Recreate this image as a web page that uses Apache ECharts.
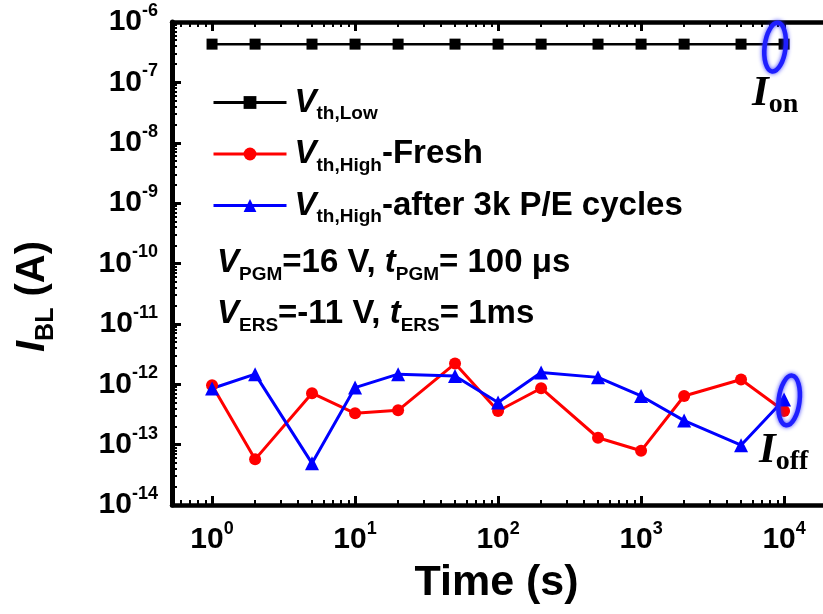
<!DOCTYPE html>
<html>
<head>
<meta charset="utf-8">
<script src="https://cdn.jsdelivr.net/npm/echarts@6/dist/echarts.min.js"></script>
<style>
  html, body { margin: 0; padding: 0; background: #fff; }
  #chart { width: 823px; height: 614px; }
</style>
</head>
<body>
<div id="chart"></div>
<script>
// Retention measurement: bit-line current vs. time
const times = [1, 2, 5, 10, 20, 50, 100, 200, 500, 1000, 2000, 5000, 10000];
const iLow = [4.3e-7, 4.3e-7, 4.3e-7, 4.3e-7, 4.3e-7, 4.3e-7, 4.3e-7, 4.3e-7, 4.3e-7, 4.3e-7, 4.3e-7, 4.3e-7, 4.3e-7];
const iHighFresh = [9.6e-13, 5.7e-14, 7.1e-13, 3.3e-13, 3.7e-13, 2.2e-12, 3.6e-13, 8.6e-13, 1.3e-13, 7.9e-14, 6.4e-13, 1.2e-12, 3.6e-13];
const iHighCycled = [8.5e-13, 1.47e-12, 4.9e-14, 8.8e-13, 1.47e-12, 1.37e-12, 5.0e-13, 1.56e-12, 1.3e-12, 6.4e-13, 2.5e-13, 9.8e-14, 5.6e-13];

const seriesNames = ['Vth,Low', 'Vth,High-Fresh', 'Vth,High-after 3k P/E cycles'];
const legendSub = ['th,Low', 'th,High', 'th,High'];
const legendTail = ['', '-Fresh', '-after 3k P/E cycles'];

const xTickValues = [1, 10, 100, 1000, 10000];
const yTickValues = [1e-14, 1e-13, 1e-12, 1e-11, 1e-10, 1e-9, 1e-8, 1e-7, 1e-6];

const xMin = Math.pow(10, -0.28);
const xMax = Math.pow(10, 4.342);
const yMin = 1e-14;
const yMax = 1e-6;

// minor ticks at 2..9 of each decade
function minorTicks(d0, d1, lo, hi) {
  const out = [];
  for (let d = d0; d <= d1; d++) {
    for (let k = 2; k <= 9; k++) {
      const v = k * Math.pow(10, d);
      if (v > lo && v < hi) out.push(v);
    }
  }
  return out;
}
const xMinor = minorTicks(-1, 4, xMin, xMax);
const yMinor = minorTicks(-14, -7, yMin, yMax);

const SANS = 'Liberation Sans, Arial, sans-serif';
const SERIF = 'Liberation Serif, Times New Roman, serif';

const tickRich = {
  b: { fontFamily: SANS, fontWeight: 'bold', fontSize: 30, lineHeight: 40, verticalAlign: 'middle', color: '#000' },
  s: { fontFamily: SANS, fontWeight: 'bold', fontSize: 18, lineHeight: 18, verticalAlign: 'top', color: '#000' }
};
function powLabel(v) {
  const e = Math.round(Math.log10(v));
  return '{b|10}{s|' + e + '}';
}

const frame = { show: true, lineStyle: { color: '#000', width: 4.5 } };
const majorTick = { show: true, inside: true, length: 9, lineStyle: { color: '#000', width: 3 } };
const minorTick = { show: true, inside: true, length: 5, lineStyle: { color: '#000', width: 2 } };

function decoAxis(position, min, max, tick, values, line) {
  return {
    type: 'log', logBase: 10, position: position, min: min, max: max,
    axisLine: line ? frame : { show: false },
    axisTick: Object.assign({}, tick, { customValues: values }),
    axisLabel: { show: false },
    splitLine: { show: false },
    minorTick: { show: false }
  };
}

const chart = echarts.init(document.getElementById('chart'), null, { renderer: 'canvas' });

const option = {
  backgroundColor: '#fff',
  animation: false,
  grid: { left: 172, top: 22, width: 661, height: 483, containLabel: false, outerBoundsMode: 'none' },
  legend: {
    orient: 'vertical', left: 212, top: 86, padding: 0, itemGap: 14,
    itemWidth: 73, itemHeight: 16,
    lineStyle: { width: 3 },
    data: seriesNames,
    formatter: function (name) {
      const i = seriesNames.indexOf(name);
      return '{v|V}{s|' + legendSub[i] + '}' + (legendTail[i] ? '{t|' + legendTail[i] + '}' : '');
    },
    textStyle: {
      color: '#000',
      rich: {
        v: { fontFamily: SANS, fontWeight: 'bold', fontStyle: 'italic', fontSize: 33, lineHeight: 42, verticalAlign: 'middle', color: '#000', padding: [0, 0, 0, 3] },
        s: { fontFamily: SANS, fontWeight: 'bold', fontSize: 19, lineHeight: 20, verticalAlign: 'bottom', color: '#000' },
        t: { fontFamily: SANS, fontWeight: 'bold', fontSize: 33, lineHeight: 42, verticalAlign: 'middle', color: '#000' }
      }
    }
  },
  xAxis: [
    {
      type: 'log', logBase: 10, position: 'bottom', min: xMin, max: xMax,
      axisLine: frame,
      axisTick: Object.assign({}, majorTick, { customValues: xTickValues }),
      axisLabel: { show: true, customValues: xTickValues, formatter: powLabel, rich: tickRich, margin: 15 },
      splitLine: { show: false },
      minorTick: { show: false },
      name: 'Time (s)', nameLocation: 'middle', nameGap: 57,
      nameTextStyle: { fontFamily: SANS, fontWeight: 'bold', fontSize: 43, color: '#000', padding: [0, 12, 0, 0] }
    },
    decoAxis('top', xMin, xMax, majorTick, xTickValues, true),
    decoAxis('bottom', xMin, xMax, minorTick, xMinor, false),
    decoAxis('top', xMin, xMax, minorTick, xMinor, false)
  ],
  yAxis: [
    {
      type: 'log', logBase: 10, position: 'left', min: yMin, max: yMax,
      axisLine: { show: true, lineStyle: { color: '#000', width: 5 } },
      axisTick: Object.assign({}, majorTick, { customValues: yTickValues }),
      axisLabel: { show: true, customValues: yTickValues, formatter: powLabel, rich: tickRich, margin: 14 },
      splitLine: { show: false },
      minorTick: { show: false },
      name: '{i|I}{s|BL}{n| (A)}', nameLocation: 'middle', nameRotate: 90, nameGap: 113,
      nameTextStyle: {
        color: '#000',
        padding: [0, 66, 0, 0],
        rich: {
          i: { fontFamily: SANS, fontWeight: 'bold', fontStyle: 'italic', fontSize: 40, lineHeight: 52, verticalAlign: 'middle', color: '#000' },
          s: { fontFamily: SANS, fontWeight: 'bold', fontSize: 25, lineHeight: 25, verticalAlign: 'bottom', color: '#000' },
          n: { fontFamily: SANS, fontWeight: 'bold', fontSize: 40, lineHeight: 52, verticalAlign: 'middle', color: '#000' }
        }
      }
    },
    decoAxis('left', yMin, yMax, minorTick, yMinor, false)
  ],
  series: [
    {
      name: seriesNames[0], type: 'line', xAxisIndex: 0, yAxisIndex: 0,
      data: times.map((t, i) => [t, iLow[i]]),
      symbol: 'rect', symbolSize: 11,
      lineStyle: { color: '#000', width: 2.5 }, itemStyle: { color: '#000' }
    },
    {
      name: seriesNames[1], type: 'line', xAxisIndex: 0, yAxisIndex: 0,
      data: times.map((t, i) => [t, iHighFresh[i]]),
      symbol: 'circle', symbolSize: 12,
      lineStyle: { color: '#ff0000', width: 3 }, itemStyle: { color: '#ff0000' }
    },
    {
      name: seriesNames[2], type: 'line', xAxisIndex: 0, yAxisIndex: 0,
      data: times.map((t, i) => [t, iHighCycled[i]]),
      symbol: 'triangle', symbolSize: 14,
      lineStyle: { color: '#0000ff', width: 3 }, itemStyle: { color: '#0000ff' }
    }
  ]
};
chart.setOption(option);

// Annotations: test conditions, I_on / I_off labels and highlight ellipses
const annRich = {
  v: { fontFamily: SANS, fontWeight: 'bold', fontStyle: 'italic', fontSize: 33, lineHeight: 42, verticalAlign: 'middle', fill: '#000' },
  s: { fontFamily: SANS, fontWeight: 'bold', fontSize: 19, lineHeight: 20, verticalAlign: 'bottom', fill: '#000' },
  t: { fontFamily: SANS, fontWeight: 'bold', fontSize: 33, lineHeight: 42, verticalAlign: 'middle', fill: '#000' }
};
const labRich = {
  i: { fontFamily: SERIF, fontWeight: 'bold', fontStyle: 'italic', fontSize: 43, lineHeight: 50, verticalAlign: 'middle', fill: '#000' },
  o: { fontFamily: SERIF, fontWeight: 'bold', fontSize: 28, lineHeight: 22, verticalAlign: 'bottom', fill: '#000' }
};

const onPt = chart.convertToPixel({ xAxisIndex: 0, yAxisIndex: 0 }, [times[times.length - 1], iLow[iLow.length - 1]]);
const offPt = chart.convertToPixel({ xAxisIndex: 0, yAxisIndex: 0 }, [times[times.length - 1], iHighCycled[iHighCycled.length - 1]]);

const ringStyle = { fill: null, stroke: '#1f1fff', lineWidth: 4.5, shadowBlur: 4, shadowColor: 'rgba(40,40,255,0.9)' };

chart.setOption({
  graphic: [
    { type: 'text', x: 217, y: 263, style: { text: '{v|V}{s|PGM}{t|=16 V, }{v|t}{s|PGM}{t|= 100 μs}', rich: annRich, verticalAlign: 'middle' } },
    { type: 'text', x: 217, y: 314, style: { text: '{v|V}{s|ERS}{t|=-11 V, }{v|t}{s|ERS}{t|= 1ms}', rich: annRich, verticalAlign: 'middle' } },
    { type: 'text', x: 752, y: 94, style: { text: '{i|I}{o|on}', rich: labRich, verticalAlign: 'middle' } },
    { type: 'text', x: 759, y: 451, style: { text: '{i|I}{o|off}', rich: labRich, verticalAlign: 'middle' } },
    { type: 'ellipse', x: onPt[0] - 9, y: onPt[1] + 3, rotation: -0.12, shape: { cx: 0, cy: 0, rx: 10.5, ry: 24.5 }, style: ringStyle, z: 100 },
    { type: 'ellipse', x: offPt[0] + 5, y: offPt[1] + 1, rotation: -0.12, shape: { cx: 0, cy: 0, rx: 10.5, ry: 25 }, style: ringStyle, z: 100 }
  ]
});
</script>
</body>
</html>
